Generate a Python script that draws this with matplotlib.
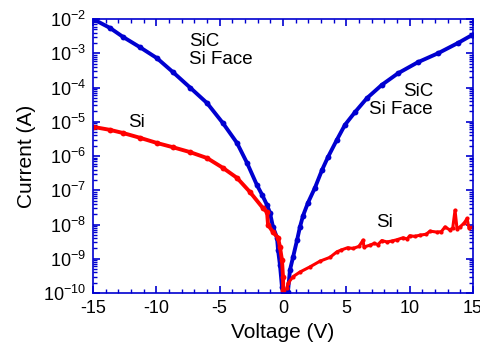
import matplotlib
matplotlib.use("Agg")
import matplotlib.pyplot as plt
from matplotlib.ticker import LogLocator, MultipleLocator, NullFormatter

plt.rcParams['font.family'] = ['Liberation Sans', 'DejaVu Sans']
plt.rcParams['axes.unicode_minus'] = False

# SiC (Si face) I-V
sic_voltage = [-15.0, -13.66, -12.63, -11.29, -9.95, -8.68, -7.34, -5.99, -4.74, -3.63,
               -2.84, -2.05, -1.66, -1.26, -1.03, -0.79, -0.47, -0.39, -0.24, -0.08, 0.0,
               0.39, 0.55, 0.79, 1.11, 1.34, 1.58, 1.97, 2.53, 3.08, 3.55, 4.26, 4.89,
               5.68, 6.63, 7.81, 9.08, 10.66, 12.24, 13.82, 14.92, 15.0]
sic_current = [1.0e-2, 5.5e-3, 3.0e-3, 1.5e-3, 7.2e-4, 2.8e-4, 1.0e-4, 3.5e-5, 9.1e-6, 2.4e-6,
               6.3e-7, 1.4e-7, 7.5e-8, 3.7e-8, 2.2e-8, 8.5e-9, 4.1e-9, 1.8e-9, 6.6e-10, 1.5e-10, 1.05e-10,
               1.07e-10, 4.7e-10, 1.1e-9, 3.5e-9, 8.5e-9, 1.8e-8, 4.3e-8, 1.2e-7, 3.9e-7, 9.3e-7, 3.0e-6, 8.1e-6,
               1.9e-5, 4.9e-5, 1.2e-4, 2.6e-4, 5.5e-4, 1.0e-3, 2.0e-3, 3.4e-3, 3.5e-3]

# Si I-V, reverse side (smooth) and forward side (noisy)
si_rev_voltage = [-15.0, -13.66, -12.63, -11.29, -9.95, -8.68, -7.34, -5.99, -4.74, -3.63,
                  -2.61, -1.58, -1.26, -1.18, -0.79, -0.39, -0.24, -0.08, 0.0, 0.02]
si_rev_current = [7.1e-6, 5.8e-6, 4.7e-6, 3.4e-6, 2.4e-6, 1.8e-6, 1.3e-6, 8.7e-7, 4.5e-7, 2.3e-7,
                  8.9e-8, 3.0e-8, 2.3e-8, 9.8e-9, 6.0e-9, 4.1e-9, 2.2e-9, 9.1e-10, 3.0e-10, 1.2e-10]
si_fwd_voltage = [0.32, 0.39, 0.79, 1.34, 2.13, 2.92, 3.71, 4.26, 4.6, 5.1, 5.53, 6.0, 6.32, 6.39,
                  6.87, 7.2, 7.5, 7.8, 8.21, 8.6, 9.0, 9.47, 9.8, 10.0, 10.4, 10.82, 11.3, 11.6,
                  12.16, 12.5, 12.79, 13.18, 13.4, 13.58, 13.74, 13.97, 14.3, 14.53, 14.68, 15.0]
si_fwd_current = [1.4e-10, 1.9e-10, 3.0e-10, 4.1e-10, 5.8e-10, 8.5e-10, 1.1e-9, 1.6e-9, 1.8e-9, 2.1e-9,
                  2.0e-9, 2.3e-9, 3.5e-9, 2.2e-9, 2.5e-9, 2.8e-9, 2.6e-9, 3.4e-9, 3.1e-9, 3.3e-9,
                  3.6e-9, 4.1e-9, 3.8e-9, 4.7e-9, 4.5e-9, 4.9e-9, 5.2e-9, 6.4e-9, 6.0e-9, 6.2e-9,
                  8.5e-9, 6.9e-9, 8.0e-9, 2.6e-8, 7.4e-9, 8.5e-9, 1.1e-8, 1.5e-8, 7.9e-9, 8.5e-9]

blue = '#0000D0'
red = '#FF0000'

fig = plt.figure(figsize=(4.81, 3.54), dpi=100)
ax = fig.add_axes([0.1933, 0.1723, 0.7901, 0.774])

ax.plot(sic_voltage, sic_current, color=blue, lw=2.8, marker='o', ms=4.2, mew=0)
ax.plot(si_rev_voltage, si_rev_current, color=red, lw=2.8, marker='o', ms=4.2, mew=0)
ax.plot(si_fwd_voltage, si_fwd_current, color=red, lw=2.2, marker='o', ms=3.0, mew=0)

ax.set_yscale('log')
ax.set_xlim(-15, 15)
ax.set_ylim(1e-10, 1e-2)

ax.xaxis.set_major_locator(MultipleLocator(5))
ax.xaxis.set_minor_locator(MultipleLocator(1))
ax.yaxis.set_major_locator(LogLocator(base=10, numticks=20))
ax.yaxis.set_minor_locator(LogLocator(base=10, subs=range(2, 10), numticks=20))
ax.yaxis.set_minor_formatter(NullFormatter())

for s in ax.spines.values():
    s.set_color(blue)
    s.set_linewidth(1.2)
ax.tick_params(which='both', direction='in', top=True, right=True, color=blue,
               labelsize=13, labelcolor='black')
ax.tick_params(which='major', length=5, width=1.2, pad=5)
ax.tick_params(which='minor', length=3, width=1.0)

ax.set_xlabel('Voltage (V)', fontsize=15, labelpad=4)
ax.set_ylabel('Current (A)', fontsize=15, labelpad=5)

ax.text(0.253, 0.948, 'SiC\nSi Face', transform=ax.transAxes, fontsize=13.5,
        ha='left', va='top', linespacing=1.05)
ax.text(0.895, 0.765, 'SiC\nSi Face', transform=ax.transAxes, fontsize=13.5,
        ha='right', va='top', linespacing=1.05, multialignment='right')
ax.text(0.092, 0.652, 'Si', transform=ax.transAxes, fontsize=13.5, ha='left', va='top')
ax.text(0.745, 0.287, 'Si', transform=ax.transAxes, fontsize=13.5, ha='left', va='top')

fig.savefig('out.png', dpi=100)
